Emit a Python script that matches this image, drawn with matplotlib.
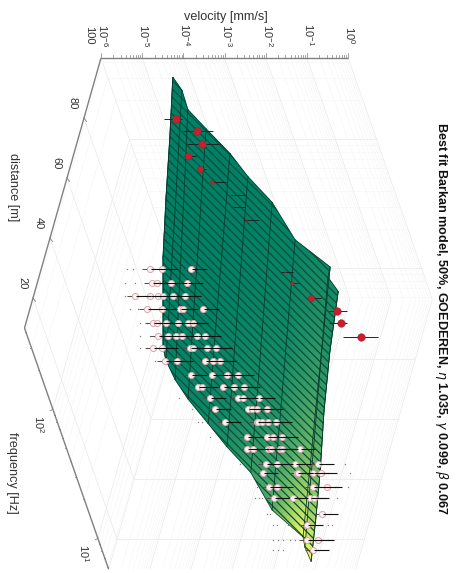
import numpy as np
import matplotlib
matplotlib.use("Agg")
import matplotlib.pyplot as plt
from matplotlib.colors import PowerNorm
from matplotlib.patches import Polygon

plt.rcParams['font.family'] = ['Liberation Sans', 'DejaVu Sans']
plt.rcParams['mathtext.fontset'] = 'dejavusans'
plt.rcParams['hatch.linewidth'] = 0.9

# ---------------- data -----------------
surf_dist = [100, 80, 60, 40, 25, 10]
surf_logf = [2.48, 2.38, 2.23, 2.08, 1.89, 1.71, 1.51, 1.22, 1.01, 0.93, 0.82]
surf_logv = [
    [-4.42, -4.31, -4.33, -4.05, -3.68, -3.44, -3.07, -2.83, -2.21, -2.35, -2.22],
    [-4.08, -3.98, -3.98, -3.74, -3.38, -3.14, -2.77, -2.54, -1.94, -2.06, -2.01],
    [-3.76, -3.65, -3.64, -3.42, -3.09, -2.84, -2.47, -2.25, -1.68, -1.77, -1.74],
    [-3.42, -3.33, -3.30, -3.11, -2.80, -2.54, -2.17, -1.96, -1.41, -1.48, -1.42],
    [-3.11, -3.08, -3.04, -2.87, -2.57, -2.31, -1.95, -1.75, -1.21, -1.27, -1.21],
    [-2.80, -2.84, -2.78, -2.63, -2.35, -2.09, -1.73, -1.53, -1.01, -1.05, -1.02],
]

near_dist = [37.0, 35.5, 34.4, 33.1, 31.9, 30.6, 30.0, 28.7, 27.4, 26.5, 26.2, 25.6,
             24.2, 22.7, 21.7, 20.1, 20.1, 18.9, 18.3, 16.4, 15.7, 14.2, 13.8]
near_logf = [2.46, 2.385, 2.31, 2.24, 2.16, 2.09, 2.01, 1.94, 1.86, 1.79, 1.71, 1.64,
             1.57, 1.49, 1.42, 1.34, 1.27, 1.19, 1.12, 1.04, 0.97, 0.89, 0.82]
near_logv = [
    [-3.70, -3.40, -2.70],
    [-3.70, -3.58, -3.24, -2.85],
    [-4.17, -3.81, -3.61, -3.49, -3.25, -2.96],
    [-3.93, -3.57, -3.13, -3.06, -2.57],
    [-3.85, -3.75, -3.53, -3.24, -3.00, -2.88],
    [-3.77, -3.53, -3.34, -3.19, -2.83, -2.63],
    [-3.97, -3.75, -3.07, -3.00, -2.66, -2.44],
    [-3.73, -3.44, -2.76, -2.56, -2.39],
    [-3.16, -2.65, -2.28, -2.02],
    [-3.05, -2.95, -2.44, -2.17, -1.93],
    [-2.84, -2.16, -2.04, -1.65],
    [-2.78, -1.98, -1.88, -1.76, -1.52],
    [-2.58, -1.81, -1.78, -1.69, -1.54, -1.35],
    [-2.11, -1.62, -1.48, -1.26],
    [-2.16, -2.02, -1.65, -1.60, -1.58, -1.36, -1.31, -0.88],
    [-1.75, -1.49, -1.05, -0.49],
    [-1.91, -1.08, -1.06, -0.69, -0.50],
    [-1.82, -1.63, -0.75, -0.42],
    [-1.77, -1.31, -0.89, -0.80],
    [-0.65],
    [-1.07],
    [-1.13, -0.86],
    [-1.05],
]
near_stray = [
    [-4.25, -4.11], [-4.35, -4.11], [-4.41, -4.29], [-4.34, -4.15], [-4.16, -3.99],
    [-4.21, -3.97], [-4.29, -4.12], [-3.97], [], [], [-3.59], [-3.34], [-3.24, -3.14],
    [-3.00], [], [-2.39, 0.16], [0.20], [-2.11, -0.22, 0.09], [-2.23, -2.13, -2.06, -0.24],
    [-1.98, -1.91], [-1.90, -1.80, -1.53, -0.56, -0.47],
    [-1.96, -1.83, -1.71, -1.54, -1.42, -0.62, -0.52], [-2.03, -1.91, -1.79, -0.93],
]
near_err_low = 0.2
near_err_high = 0.38

far_dist = 82
far_logf = [2.576, 2.483, 2.382, 2.289, 2.188, 2.087, 1.987, 1.894, 1.793,
            1.39, 1.304, 1.188, 1.087, 0.994, 0.886]
far_logv = [-3.87, -3.46, -3.45, -3.89, -3.71, -3.53, -3.13, -3.23, -3.02,
            -2.52, -2.44, -2.11, -1.59, -1.59, -1.22]
far_weight = [5.5, 5.5, 5.5, 5.0, 4.5, 2.5, 0.8, 0.8, 0.8,
              0.8, 2.5, 4.5, 5.5, 5.5, 5.5]
far_err_low = [0.3, 0.35, 0.35, 0.1, 0.05, 0.05, 0.05, 0.05, 0.05,
               0.1, 0.05, 0.05, 0.2, 0.3, 0.45]
far_err_high = [0.15, 0.4, 0.45, 0.2, 0.15, 0.35, 0.3, 0.3, 0.3,
                0.2, 0.2, 0.25, 0.25, 0.15, 0.4]

vel_ticks = [-6, -5, -4, -3, -2, -1, 0]
dist_ticks = [80, 60, 40, 20]
freq_ticks = [2, 1]
minor = [2, 3, 4, 5, 6, 7, 8, 9]

LF_MAX, LF_MIN, D_MAX, D_MIN, LV_MIN, LV_MAX = 2.63, 0.76, 100, 10, -6, 0


def project(d, lf, lv):
    """Fixed oblique view of (distance, log10 frequency, log10 velocity)."""
    d, lf, lv = np.asarray(d, float), np.asarray(lf, float), np.asarray(lv, float)
    b, a = 100 - d, LF_MAX - lf
    return 101 + 41.2 * (lv + 6) - 0.85 * b + 45 * a, 58 + 3 * b + 129 * a


fig = plt.figure(figsize=(4.57, 5.73), dpi=100)
ax = fig.add_axes([0, 0, 1, 1])
ax.set_xlim(0, 457)
ax.set_ylim(573, 0)
ax.axis('off')


def seg(p, q, **kw):
    x0, y0 = project(*p)
    x1, y1 = project(*q)
    ax.plot([x0, x1], [y0, y1], solid_capstyle='butt', **kw)


# ---------- box grid on three walls ----------
LIGHT = dict(color='#e8e8e8', lw=0.5, zorder=1)
FAINT = dict(color='#f5f5f5', lw=0.4, zorder=0.5)
minor_v = [k + np.log10(m) for k in range(-6, 0) for m in minor]
minor_f = [k + np.log10(m) for k in range(0, 3) for m in minor
           if LF_MIN < k + np.log10(m) < LF_MAX]
for v in minor_v:
    seg((D_MAX, LF_MAX, v), (D_MAX, LF_MIN, v), **FAINT)
    seg((D_MAX, LF_MIN, v), (D_MIN, LF_MIN, v), **FAINT)
for f in minor_f:
    seg((D_MAX, f, LV_MIN), (D_MAX, f, LV_MAX), **FAINT)
    seg((D_MAX, f, LV_MIN), (D_MIN, f, LV_MIN), **FAINT)
for v in vel_ticks:
    seg((D_MAX, LF_MAX, v), (D_MAX, LF_MIN, v), **LIGHT)
    seg((D_MAX, LF_MIN, v), (D_MIN, LF_MIN, v), **LIGHT)
for d in dist_ticks:
    seg((d, LF_MIN, LV_MIN), (d, LF_MIN, LV_MAX), **LIGHT)
    seg((d, LF_MAX, LV_MIN), (d, LF_MIN, LV_MIN), **LIGHT)
for f in freq_ticks:
    seg((D_MAX, f, LV_MIN), (D_MAX, f, LV_MAX), **LIGHT)
    seg((D_MAX, f, LV_MIN), (D_MIN, f, LV_MIN), **LIGHT)

# ---------- axes lines and ticks ----------
AXC = '#808080'
seg((D_MAX, LF_MAX, LV_MIN), (D_MAX, LF_MAX, LV_MAX), color=AXC, lw=1.0, zorder=2)
seg((D_MAX, LF_MAX, LV_MIN), (D_MIN, LF_MAX, LV_MIN), color=AXC, lw=1.0, zorder=2)
seg((D_MIN, LF_MAX, LV_MIN), (D_MIN, LF_MIN, LV_MIN), color=AXC, lw=1.0, zorder=2)

for v in minor_v + vel_ticks:
    x, y = project(D_MAX, LF_MAX, v)
    h = 5 if v in vel_ticks else 3
    ax.plot([x, x], [y, y - h], color=AXC, lw=0.5, zorder=2)
for d in dist_ticks:
    x, y = project(d, LF_MAX, LV_MIN)
    ax.plot([x, x + 2.5], [y, y + 3.5], color=AXC, lw=0.6, zorder=2)
for f in minor_f + freq_ticks:
    x, y = project(D_MIN, f, LV_MIN)
    h = 3.5 if f in freq_ticks else 2
    ax.plot([x, x - h + 1], [y, y + h - 2], color=AXC, lw=0.6, zorder=2)

# ---------- surface ----------
D, F = np.meshgrid(surf_dist, surf_logf, indexing='ij')
V = np.array(surf_logv)
SX, SY = project(D, F, V)
ax.pcolormesh(SX, SY, 10.0 ** V, cmap='summer', shading='gouraud',
              norm=PowerNorm(gamma=0.85, vmin=0, vmax=0.1), zorder=3)
outline = np.concatenate([
    np.column_stack([SX[0], SY[0]]),
    np.column_stack([SX[:, -1], SY[:, -1]])[1:],
    np.column_stack([SX[-1], SY[-1]])[::-1][1:],
    np.column_stack([SX[:, 0], SY[:, 0]])[::-1][1:],
])
ax.add_patch(Polygon(outline, closed=True, facecolor='none', edgecolor='#06503c',
                     hatch='\\\\\\\\', lw=0.0, zorder=3.2))
for j in range(SX.shape[1]):
    ax.plot(SX[:, j], SY[:, j], color='#0a3a2c', lw=0.6, zorder=3.4)
ax.plot(outline[:, 0], outline[:, 1], color='#0a3a2c', lw=0.5, zorder=3.4)
ax.plot(outline[[-1, 0], 0], outline[[-1, 0], 1], color='#0a3a2c', lw=0.5, zorder=3.4)

# ---------- observations, near group ----------
for d, f, vals, stray in zip(near_dist, near_logf, near_logv, near_stray):
    for v in stray:
        x, y = project(d, f, v)
        ax.plot(x, y, 's', ms=0.9, color='#808080', mew=0, zorder=4)
    for v in vals:
        seg((d, f, v - near_err_low), (d, f, v), color='#5a4a4a', lw=0.7, zorder=4.1)
        x, y = project(d, f, v)
        ax.plot(x, y, 'o', ms=4.4, mfc='#fbf3f3', mec='#d9a8ae', mew=0.7, zorder=4.2)
        seg((d, f, v + 0.02), (d, f, v + near_err_high), color='#111111', lw=0.8, zorder=4.3)

# ---------- observations, far group ----------
for f, v, s, lo, hi in zip(far_logf, far_logv, far_weight, far_err_low, far_err_high):
    seg((far_dist, f, v - lo), (far_dist, f, v + hi), color='#222222', lw=0.7, zorder=4.1)
    x, y = project(far_dist, f, v)
    ax.plot(x, y, 'o', ms=s, mfc='#c4202e', mec='#a01a26', mew=0.3, zorder=4.2)

# ---------- text ----------
TXT = '#333333'
ax.text(226, 17, 'velocity [mm/s]', fontsize=9.1, color=TXT, ha='center', va='center')
for v in vel_ticks:
    x, _ = project(D_MAX, LF_MAX, v)
    ax.text(x + 2, 35, f'$\\mathregular{{10^{{{v}}}}}$', fontsize=8, color=TXT,
            rotation=270, ha='center', va='center')
ax.text(89, 35, '100', fontsize=8, color=TXT, rotation=270, ha='center', va='center')
for d in dist_ticks:
    x, y = project(d, LF_MAX, LV_MIN)
    ax.text(x - 11, y - 15, str(d), fontsize=8, color=TXT, rotation=270,
            ha='center', va='center')
for f in freq_ticks:
    x, y = project(D_MIN, f, LV_MIN)
    ax.text(x - 14, y + 15, f'$\\mathregular{{10^{{{f}}}}}$', fontsize=8, color=TXT,
            rotation=270, ha='center', va='center')
ax.text(13, 187, 'distance [m]', fontsize=9.1, color=TXT, rotation=270, ha='center', va='center')
ax.text(12, 473, 'frequency [Hz]', fontsize=9.1, color=TXT, rotation=270, ha='center', va='center')
ax.text(441, 318, r'Best fit Barkan model, 50%, GOEDEREN, $\eta$ 1.035, $\gamma$ 0.099, $\beta$ 0.067',
        fontsize=9.1, fontweight='bold', color='#111111', rotation=270, ha='center', va='center')

fig.savefig('out.png', dpi=100)
